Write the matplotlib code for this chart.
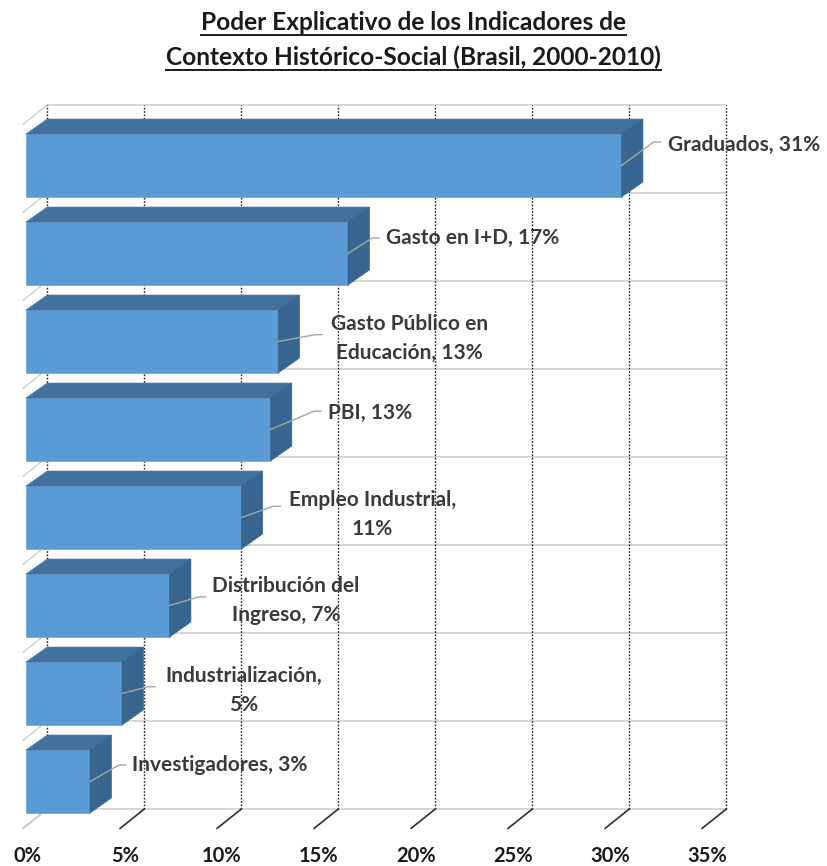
import matplotlib
matplotlib.use("Agg")
import matplotlib.pyplot as plt
from matplotlib.patches import Polygon, Rectangle
from matplotlib.lines import Line2D

# ---- data ----
categories = ["Graduados", "Gasto en I+D", "Gasto Público en\nEducación", "PBI",
              "Empleo Industrial", "Distribución del\nIngreso", "Industrialización",
              "Investigadores"]
label_seps = [", ", ", ", ", ", ", ", ",\n", ", ", ",\n", ", "]
values = [30.7, 16.6, 13.0, 12.6, 11.1, 7.4, 4.95, 3.3]
x_ticks = [0, 5, 10, 15, 20, 25, 30, 35]
title_lines = ["Poder Explicativo de los Indicadores de",
               "Contexto Histórico-Social (Brasil, 2000-2010)"]

# ---- label placement (style) : (x, y, ha) in data units ----
label_pos = [(33.1, 7.55, "left"), (18.55, 6.49, "left"), (19.75, 5.35, "center"),
             (15.55, 4.50, "left"), (17.85, 3.35, "center"), (13.4, 2.37, "center"),
             (11.2, 1.35, "center"), (5.45, 0.50, "left")]
leader_end = [(32.7, 7.58), (18.2, 6.49), (15.25, 5.39), (15.2, 4.52),
              (13.1, 3.44), (9.25, 2.41), (6.65, 1.39), (5.15, 0.50)]

FRONT = "#5B9BD5"
TOP = "#41709B"
SIDE = "#386590"
LBL = "#3A3A3A"

W, H = 827, 866
fig = plt.figure(figsize=(W / 100, H / 100), dpi=100)
ax = fig.add_axes([0, 0, 1, 1])
# scale: 19.4 px per %, 88 px per category slot
ppx, ppy = 19.4, 88.0
x0px, ytop_px = 26.0, 105.0
n = len(categories)
ax.set_xlim(-x0px / ppx, (W - x0px) / ppx)
ax.set_ylim(n - (H - ytop_px) / ppy, n + ytop_px / ppy)
ax.axis("off")

BX = 1.1          # depth shift in x (%)
BY = 0.17         # bar depth shift in y
FX, FY = 1.25, 0.22  # wall/floor depth
xmax = x_ticks[-1]

# back wall horizontal lines
for k in range(n + 1):
    ax.plot([BX, xmax + BX], [k, k], color="#D0D0D0", lw=1.2, zorder=1)
    # left wall diagonals
    ax.plot([BX, BX - FX], [k, k - FY], color="#D0D0D0", lw=1.0, zorder=1)
# back wall vertical dotted gridlines
for t in x_ticks:
    ax.plot([t + BX, t + BX], [0, n], color="#202020", lw=1.0,
            linestyle=(0, (1.2, 1.2)), zorder=1)
    # floor diagonals
    ax.plot([t + BX, t + BX - FX], [0, -FY],
            color="#C8C8C8" if t == 0 else "#303030", lw=1.2, zorder=1)

# bars
for i, v in enumerate(values):
    top = n - i
    bt, bb = top - 0.16, top - 0.875
    ft, fb = bt - BY, bb - BY
    ax.add_patch(Rectangle((0, fb), v, ft - fb, facecolor=FRONT,
                           edgecolor="#6FA8DC", lw=0.6, zorder=3))
    ax.add_patch(Polygon([(0, ft), (v, ft), (v + BX, bt), (BX, bt)],
                         closed=True, facecolor=TOP, edgecolor=TOP, lw=0.5, zorder=3))
    ax.add_patch(Polygon([(v, ft), (v + BX, bt), (v + BX, bb), (v, fb)],
                         closed=True, facecolor=SIDE, edgecolor=SIDE, lw=0.5, zorder=3))
    # label + leader
    fm = (ft + fb) / 2
    ex, ey = leader_end[i]
    ax.add_line(Line2D([v, ex - 0.35, ex], [fm, ey, ey], color="#A6A6A6",
                       lw=1.0, zorder=4))
    lx, ly, ha = label_pos[i]
    txt = f"{categories[i]}{label_seps[i]}{round(v)}%"
    ax.text(lx, ly, txt, ha=ha, va="center", fontsize=15, fontweight="bold",
            color=LBL, family="Lato", linespacing=1.55, zorder=5)

# x tick labels
ylab = n - (856 - ytop_px) / ppy
for t in x_ticks:
    ax.text(t + 0.1, ylab, f"{t}%", ha="center", va="center", fontsize=14.5,
            fontweight="bold", color="#1a1a1a", family="Lato")

# title with underline
title_y = [22, 57]
texts = []
for s, yp in zip(title_lines, title_y):
    t = fig.text(0.5, 1 - yp / H, s, ha="center", va="center", fontsize=17.6,
                 fontweight="bold", color="#1a1a1a", family="Lato")
    texts.append(t)
fig.canvas.draw()
r = fig.canvas.get_renderer()
for t in texts:
    bb = t.get_window_extent(renderer=r)
    yline = (bb.y0 - 1) / H
    fig.add_artist(Line2D([bb.x0 / W, bb.x1 / W], [yline, yline],
                          transform=fig.transFigure, color="#1a1a1a", lw=1.4))

fig.savefig("out.png", dpi=100, facecolor="white")
